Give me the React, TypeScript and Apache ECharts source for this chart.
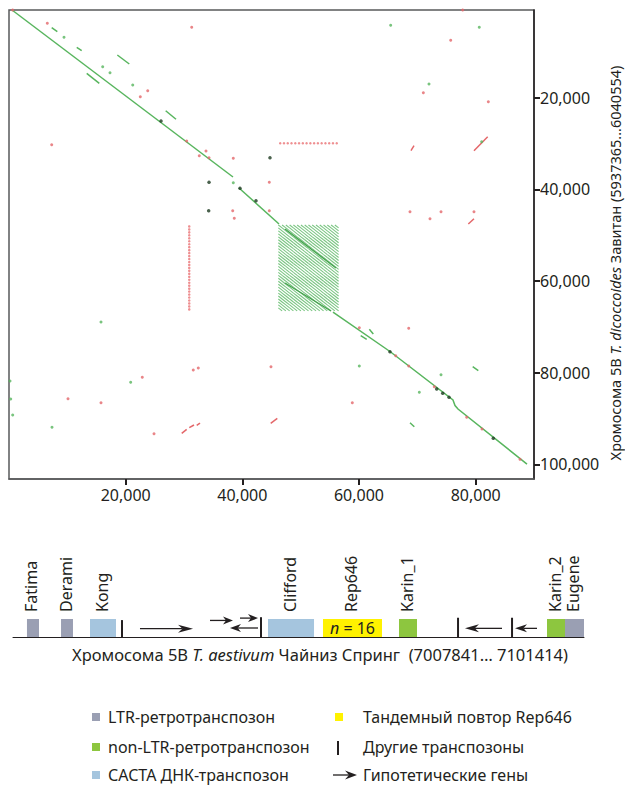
import React, { useEffect, useRef } from 'react';
import * as echarts from 'echarts';

const FONT = '"Noto Sans", sans-serif';
const TEXT = '#231f20';
const GREEN = '#58b55e';
const RED = '#e4676a';
const DARK = '#1d3b20';

// ---------- Dot plot (bp coordinates) ----------
const xTicks = [20000, 40000, 60000, 80000];
const yTicks = [20000, 40000, 60000, 80000, 100000];

const mainDiagonal: number[][][] = [
  [[514, 900], [38400, 37330]],
  [[39430, 39730], [46290, 47580]],
  [[55540, 66780], [65310, 75390], [76110, 85970], [76460, 87170], [76970, 87930], [88800, 99960]],
];
const repeatDiagonals: number[][][] = [
  [[47310, 48670], [56060, 57180]],
  [[47310, 60450], [55200, 66560]],
];
const greenSegments: number[][][] = [
  [[7320, 4760], [8280, 5630]],
  [[11610, 9040], [12460, 9780]],
  [[18570, 10720], [20620, 12680]],
  [[13320, 14710], [15480, 16890]],
  [[26860, 22870], [28630, 24740]],
  [[61770, 70550], [62450, 71570]],
  [[60290, 71940], [61320, 72730]],
  [[79490, 78710], [80450, 79580]],
  [[68740, 90920], [69480, 91790]],
];
const redSegments: number[][][] = [
  [[68910, 31590], [69430, 30500]],
  [[79710, 31590], [82060, 28540]],
  [[78740, 47580], [79710, 46420]],
  [[29610, 93230], [30460, 92360]],
  [[30910, 92010], [31710, 91420]],
  [[32180, 91490], [32740, 90990]],
  [[44860, 91050], [45990, 89960]],
];
const greenDots: number[][] = [
  [9430, 6850], [16060, 13270], [17310, 14580], [21210, 17260], [65430, 4240],
  [80620, 4670], [72000, 17040], [38450, 38570], [15770, 68960], [170, 81830],
  [290, 85750], [630, 89240], [7370, 91920], [20860, 82110], [60050, 78550],
  [70340, 84290], [74060, 80450], [81030, 29630],
];
const darkDots: number[][] = [
  [26060, 25110], [34290, 38480], [34230, 44680], [44740, 33120], [39600, 39790],
  [42340, 42500], [65310, 75430], [73320, 83570], [74350, 84510], [75430, 85380],
  [83020, 94320],
];
const redDots: number[][] = [
  [630, 900], [6570, 3800], [31320, 4670], [23780, 18500], [22510, 19810],
  [7320, 30280], [30460, 29470], [33770, 31660], [32620, 32680], [34290, 33120],
  [38450, 33250], [44620, 38480], [38350, 44680], [38620, 46340], [44620, 44680],
  [77780, 900], [75720, 7510], [71030, 18940], [82170, 20900], [68740, 44900],
  [74060, 44900], [79710, 44900], [72170, 46420], [31590, 79430], [32450, 78990],
  [22850, 81020], [44910, 78710], [10110, 85690], [15770, 86560], [24860, 93320],
  [68520, 70330], [58850, 86560], [60050, 70200], [66290, 76310], [68520, 78550],
  [72910, 83070], [78460, 89740], [81090, 92290], [87600, 98910],
];

// Rep646 tandem repeat copies (start positions, bp)
const rep646Period = 646;
const rep646CopiesX = [46170, 46816, 47462, 48108, 48754, 49400, 50046, 50692, 51338, 51984, 52630, 53276, 53922, 54568, 55214, 55860];
const rep646CopiesY = [47790, 48436, 49082, 49728, 50374, 51020, 51666, 52312, 52958, 53604, 54250, 54896, 55542, 56188, 56834, 57480, 58126, 58772, 59418, 60064, 60710, 61356, 62002, 62648, 63294, 63940, 64586, 65232, 65878];
const rep646SingleCopyY = 29970; // single reverse copy in T. dicoccoides
const rep646SingleCopyX = 30900; // single reverse copy in T. aestivum

// ---------- Annotation track (kb along T. aestivum segment) ----------
const trackLength = 93.573;
const trackBoxes: [string, number, number, string][] = [
  ['Fatima', 2.29, 4.26, 'ltr'],
  ['Derami', 7.87, 9.83, 'ltr'],
  ['Kong', 12.62, 16.88, 'cacta'],
  ['Clifford', 41.79, 49.33, 'cacta'],
  ['Rep646', 50.8, 60.47, 'rep'],
  ['Karin_1', 63.26, 66.21, 'nonltr'],
  ['Karin_2', 87.51, 90.46, 'nonltr'],
  ['Eugene', 90.46, 93.57, 'ltr'],
];
const otherTEs: number[][] = [[17.86, 0.94], [40.64, 1.1], [72.93, 1.07], [81.78, 1.07]];
// [start, end, level, headLength]
const genes: number[][] = [
  [20.81, 29.5, 0.46, 15],
  [32.28, 36.05, 0.92, 10],
  [40.15, 35.56, 0.5, 11],
  [37.2, 40.15, 1.05, 10],
  [80.14, 74.07, 0.48, 14],
  [85.87, 82.27, 0.48, 12],
];
const kindColors: Record<string, string> = {
  ltr: '#9a9fb3',
  nonltr: '#8dc63f',
  cacta: '#a5c5de',
  rep: '#fff200',
};
const legendLeft = ['LTR-ретротранспозон', 'non-LTR-ретротранспозон', 'САСТА ДНК-транспозон'];
const legendLeftKinds = ['ltr', 'nonltr', 'cacta'];
const legendRight = ['Тандемный повтор Rep646', 'Другие транспозоны', 'Гипотетические гены'];

function segs(list: number[][][]) {
  return list.map((c) => ({ coords: c }));
}

function buildOption(): any {
  const hatch: any[] = [];
  rep646CopiesX.forEach((x) =>
    rep646CopiesY.forEach((y) => hatch.push({ coords: [[x, y], [x + rep646Period, y + rep646Period]] }))
  );
  const repDotsH = rep646CopiesX.map((x) => [x + rep646Period / 2, rep646SingleCopyY]);
  const repDotsV = rep646CopiesY.map((y) => [rep646SingleCopyX, y + rep646Period / 2]);
  const fmt = (v: number) => v.toLocaleString('en-US');
  const labelStyle = { fontSize: 16, fontFamily: FONT, color: TEXT };
  const plain = (size: number) => ({ fontSize: size, fontFamily: FONT, fill: TEXT, color: TEXT });
  const ital = (size: number) => ({ fontSize: size, fontFamily: FONT, fontStyle: 'italic', fill: TEXT, color: TEXT });

  const rowY = [717, 747, 775];
  const graphic: any[] = [
    {
      type: 'text',
      x: 615,
      y: 263,
      rotation: Math.PI / 2,
      style: {
        text: '{a|Хромосома 5В }{b|T. dicoccoides}{a| Завитан (5937365...6040554)}',
        rich: { a: plain(14.5), b: ital(14.5) },
        textAlign: 'center',
        textVerticalAlign: 'middle',
        align: 'center',
        verticalAlign: 'middle',
      },
    },
    {
      type: 'text',
      x: 320,
      y: 654,
      style: {
        text: '{a|Хромосома 5В }{b|T. aestivum}{a| Чайниз Спринг  (7007841… 7101414)}',
        rich: { a: plain(16.5), b: ital(16.5) },
        textAlign: 'center',
        textVerticalAlign: 'middle',
        align: 'center',
        verticalAlign: 'middle',
      },
    },
  ];
  const legendText = (x: number, y: number, t: string) => ({
    type: 'text', x, y,
    style: { text: t, font: `16px ${FONT}`, lineHeight: 17, fill: TEXT, textAlign: 'left', textVerticalAlign: 'middle', align: 'left', verticalAlign: 'middle' },
  });
  legendLeft.forEach((t, i) => {
    graphic.push({ type: 'rect', shape: { x: 92, y: rowY[i] - 4, width: 8, height: 8 }, style: { fill: kindColors[legendLeftKinds[i]] } });
    graphic.push(legendText(108, rowY[i], t));
  });
  legendRight.forEach((t, i) => {
    graphic.push(legendText(363, rowY[i], t));
  });
  graphic.push({ type: 'rect', shape: { x: 335, y: rowY[0] - 4, width: 8, height: 8 }, style: { fill: kindColors.rep } });
  graphic.push({ type: 'line', shape: { x1: 338, y1: rowY[1] - 6, x2: 338, y2: rowY[1] + 8 }, style: { stroke: TEXT, lineWidth: 2 } });
  graphic.push({ type: 'line', shape: { x1: 333, y1: rowY[2], x2: 350, y2: rowY[2] }, style: { stroke: TEXT, lineWidth: 1.3 } });
  graphic.push({ type: 'polygon', shape: { points: [[357, rowY[2]], [345, rowY[2] - 4.5], [349, rowY[2]], [345, rowY[2] + 4.5]] }, style: { fill: TEXT } });

  return {
    animation: false,
    backgroundColor: '#fff',
    grid: [
      { left: 9, top: 10, width: 525, height: 469, show: true, borderColor: '#58595b', borderWidth: 1.5, backgroundColor: 'transparent' },
      { left: 13, top: 619, width: 571, height: 18, show: false },
    ],
    xAxis: [
      {
        type: 'value', gridIndex: 0, min: 0, max: 90000, position: 'bottom',
        axisLine: { show: true, onZero: false, lineStyle: { color: '#58595b', width: 1.5 } },
        axisTick: { show: true, customValues: xTicks, length: 6, lineStyle: { color: TEXT, width: 2 } },
        axisLabel: { customValues: xTicks, formatter: fmt, margin: 8, ...labelStyle },
        splitLine: { show: false },
      },
      {
        type: 'value', gridIndex: 1, min: 0, max: trackLength, position: 'bottom',
        axisLine: { show: true, onZero: false, lineStyle: { color: TEXT, width: 1 } },
        axisTick: { show: false }, axisLabel: { show: false }, splitLine: { show: false },
      },
    ],
    yAxis: [
      {
        type: 'value', gridIndex: 0, min: 900, max: 103200, inverse: true, position: 'right',
        axisLine: { show: true, onZero: false, lineStyle: { color: TEXT, width: 1.5 } },
        axisTick: { show: true, customValues: yTicks, length: 6, lineStyle: { color: TEXT, width: 2 } },
        axisLabel: { customValues: yTicks, formatter: fmt, margin: 6, ...labelStyle },
        splitLine: { show: false },
      },
      { type: 'value', gridIndex: 1, min: 0, max: 1, show: false },
    ],
    graphic,
    series: [
      { type: 'lines', coordinateSystem: 'cartesian2d', data: hatch, lineStyle: { color: 'rgba(88,182,98,0.8)', width: 1.1, opacity: 1 }, silent: true },
      { type: 'lines', coordinateSystem: 'cartesian2d', polyline: true, data: segs(mainDiagonal), lineStyle: { color: GREEN, width: 1.5, opacity: 1 }, silent: true },
      { type: 'lines', coordinateSystem: 'cartesian2d', data: segs(repeatDiagonals), lineStyle: { color: '#43a24c', width: 1.3, opacity: 1 }, silent: true },
      { type: 'lines', coordinateSystem: 'cartesian2d', data: segs(greenSegments), lineStyle: { color: GREEN, width: 1.5, opacity: 1 }, silent: true },
      { type: 'lines', coordinateSystem: 'cartesian2d', data: segs(redSegments), lineStyle: { color: RED, width: 1.5, opacity: 1 }, silent: true },
      { type: 'scatter', data: greenDots, symbolSize: 3, itemStyle: { color: GREEN }, silent: true },
      { type: 'scatter', data: redDots, symbolSize: 3, itemStyle: { color: RED }, silent: true },
      { type: 'scatter', data: repDotsH.concat(repDotsV), symbolSize: 2.5, itemStyle: { color: '#ea7376' }, silent: true },
      { type: 'scatter', data: darkDots, symbolSize: 3.5, itemStyle: { color: DARK }, silent: true },
      {
        type: 'custom', xAxisIndex: 1, yAxisIndex: 1, silent: true,
        data: trackBoxes.map((b) => [b[1], b[2]]),
        encode: { x: [0, 1] },
        renderItem: (params: any, api: any) => {
          const b = trackBoxes[params.dataIndex];
          const p0 = api.coord([b[1], 1]);
          const p1 = api.coord([b[2], 0]);
          const cx = (p0[0] + p1[0]) / 2;
          const children: any[] = [
            { type: 'rect', shape: { x: p0[0], y: p0[1], width: p1[0] - p0[0], height: p1[1] - p0[1] }, style: { fill: kindColors[b[3]] } },
            {
              type: 'text', x: cx - 1.5, y: p0[1] - 7, rotation: Math.PI / 2,
              style: { text: b[0], font: `16px ${FONT}`, fill: TEXT, textAlign: 'left', textVerticalAlign: 'middle', align: 'left', verticalAlign: 'middle' },
            },
          ];
          if (b[3] === 'rep') {
            children.push({
              type: 'text', x: cx, y: (p0[1] + p1[1]) / 2,
              style: {
                text: `{i|n}{a| = ${rep646CopiesX.length}}`,
                rich: { i: ital(16), a: plain(16) },
                textAlign: 'center', textVerticalAlign: 'middle', align: 'center', verticalAlign: 'middle',
              },
            });
          }
          return { type: 'group', children };
        },
      },
      {
        type: 'custom', xAxisIndex: 1, yAxisIndex: 1, silent: true,
        data: otherTEs.map((t) => [t[0], t[1]]),
        encode: { x: 0, y: 1 },
        renderItem: (params: any, api: any) => {
          const t = otherTEs[params.dataIndex];
          const a = api.coord([t[0], 0]);
          const b = api.coord([t[0], t[1]]);
          return { type: 'line', shape: { x1: a[0], y1: a[1], x2: b[0], y2: b[1] }, style: { stroke: TEXT, lineWidth: 2 } };
        },
      },
      {
        type: 'custom', xAxisIndex: 1, yAxisIndex: 1, silent: true,
        data: genes.map((g) => [g[0], g[1], g[2]]),
        encode: { x: [0, 1], y: 2 },
        renderItem: (params: any, api: any) => {
          const g = genes[params.dataIndex];
          const s = api.coord([g[0], g[2]]);
          const e = api.coord([g[1], g[2]]);
          const dir = e[0] > s[0] ? 1 : -1;
          const L = g[3];
          const W = 4;
          const notch = e[0] - dir * L * 0.7;
          return {
            type: 'group',
            children: [
              { type: 'line', shape: { x1: s[0], y1: s[1], x2: notch, y2: e[1] }, style: { stroke: TEXT, lineWidth: 1.3 } },
              { type: 'polygon', shape: { points: [[e[0], e[1]], [e[0] - dir * L, e[1] - W], [notch, e[1]], [e[0] - dir * L, e[1] + W]] }, style: { fill: TEXT } },
            ],
          };
        },
      },
    ],
  };
}

export default function App() {
  const ref = useRef<HTMLDivElement>(null);
  useEffect(() => {
    document.body.style.margin = '0';
    const chart = echarts.init(ref.current!, undefined, { renderer: 'svg' });
    chart.setOption(buildOption());
    return () => chart.dispose();
  }, []);
  return <div ref={ref} style={{ width: 625, height: 787 }} />;
}
